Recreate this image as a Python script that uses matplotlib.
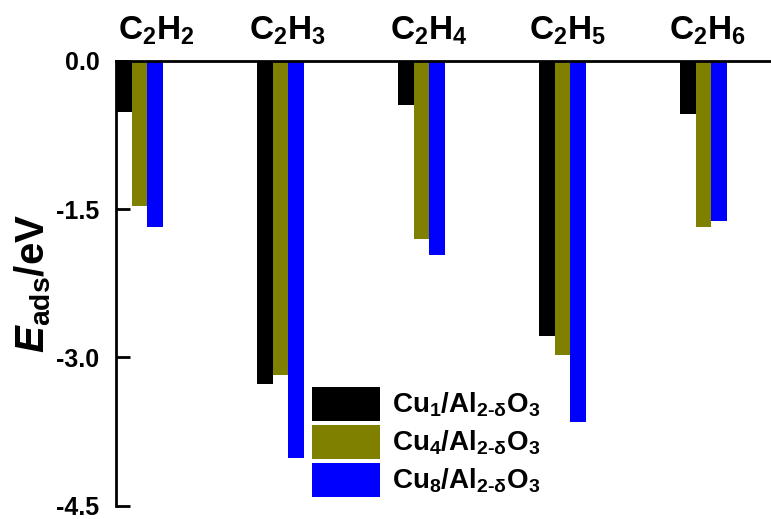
import numpy as np
import matplotlib
matplotlib.use('Agg')
import matplotlib.pyplot as plt

plt.rcParams['font.family'] = 'Liberation Sans'
plt.rcParams['font.weight'] = 'bold'
plt.rcParams['mathtext.fontset'] = 'custom'
plt.rcParams['mathtext.rm'] = 'Liberation Sans:bold'
plt.rcParams['mathtext.bf'] = 'Liberation Sans:bold'
plt.rcParams['mathtext.it'] = 'Liberation Sans:italic:bold'
plt.rcParams['mathtext.bfit'] = 'Liberation Sans:italic:bold'
plt.rcParams['mathtext.default'] = 'bf'

species = ['C$_2$H$_2$', 'C$_2$H$_3$', 'C$_2$H$_4$', 'C$_2$H$_5$', 'C$_2$H$_6$']
cu1 = [-0.52, -3.27, -0.45, -2.78, -0.54]
cu4 = [-1.47, -3.18, -1.80, -2.98, -1.68]
cu8 = [-1.68, -4.02, -1.96, -3.65, -1.62]
labels = ['Cu$_1$/Al$_{2‐δ}$O$_3$', 'Cu$_4$/Al$_{2‐δ}$O$_3$', 'Cu$_8$/Al$_{2‐δ}$O$_3$']
colors = ['black', '#808000', '#0000ff']

fig = plt.figure(figsize=(7.71, 5.19), dpi=100)
ax = fig.add_axes([0.1505, 0.026, 0.8495, 0.8565])

x = np.arange(len(species))
w = 0.11
for i, (vals, lab, c) in enumerate(zip([cu1, cu4, cu8], labels, colors)):
    ax.bar(x + (i - 1) * w, vals, w, color=c, label=lab)

ax.set_xlim(-0.165, 4.48)
ax.set_ylim(-4.5, 0)
ax.set_yticks([0, -1.5, -3.0, -4.5])
ax.set_yticklabels(['0.0', '-1.5', '-3.0', '-4.5'], fontsize=18)
ax.tick_params(axis='y', direction='in', length=10, width=2, pad=12)

# species names sit on top, first one nudged right like in the original
ax.xaxis.tick_top()
ax.set_xticks(x + np.array([0.12, 0.05, 0.05, 0.04, 0.03]))
ax.set_xticklabels(species, fontsize=24)
ax.tick_params(axis='x', length=0, pad=10)

ax.spines['right'].set_visible(False)
ax.spines['bottom'].set_visible(False)
ax.spines['left'].set_linewidth(2)
ax.spines['top'].set_linewidth(2)

ax.set_ylabel(r'$\mathbfit{E}_\mathbf{ads}$/eV', fontsize=29, fontweight='bold', labelpad=2)

ax.legend(loc='lower left', bbox_to_anchor=(0.265, -0.03), frameon=False,
          fontsize=20, handlelength=2.45, handleheight=1.5,
          labelspacing=0.15, handletextpad=0.45, borderpad=0.3)

plt.savefig('out.png', dpi=100)
